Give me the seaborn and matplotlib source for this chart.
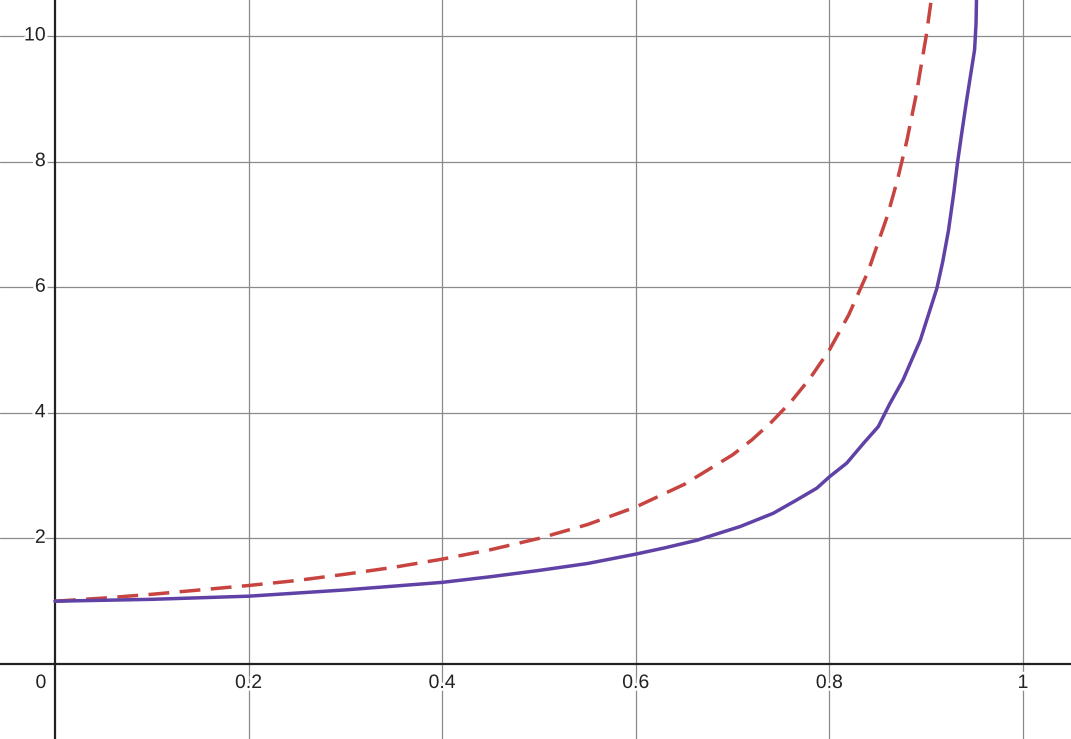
import matplotlib
matplotlib.use("Agg")
import matplotlib.pyplot as plt
import matplotlib.patheffects as pe
import seaborn as sns
import pandas as pd

sns.set_theme(style="white")
plt.rcParams["font.family"] = ["Liberation Sans", "DejaVu Sans"]

# dashed red curve
red_x = [0.0, 0.05, 0.1, 0.15, 0.2, 0.25, 0.3, 0.35, 0.4, 0.45, 0.5, 0.55,
         0.6, 0.65, 0.7, 0.72, 0.74, 0.76, 0.78, 0.8, 0.82, 0.84, 0.86,
         0.87, 0.88, 0.89, 0.9, 0.91]
red_y = [1.00, 1.05, 1.11, 1.18, 1.25, 1.33, 1.43, 1.54, 1.67, 1.82, 2.00, 2.22,
         2.50, 2.86, 3.33, 3.57, 3.85, 4.17, 4.55, 5.00, 5.56, 6.25, 7.14,
         7.69, 8.33, 9.09, 10.0, 11.1]

# solid purple curve
purple_x = [0.0, 0.1, 0.2, 0.3, 0.4, 0.45, 0.5, 0.55, 0.6, 0.63, 0.663, 0.708,
            0.742, 0.766, 0.787, 0.8, 0.818, 0.835, 0.8505, 0.8626, 0.876,
            0.894, 0.911, 0.917, 0.923, 0.9285, 0.9325, 0.9367, 0.9418, 0.950,
            0.9515, 0.952]
purple_y = [1.00, 1.03, 1.08, 1.18, 1.30, 1.39, 1.49, 1.60, 1.75, 1.85, 1.97, 2.19,
            2.40, 2.61, 2.80, 2.98, 3.20, 3.51, 3.78, 4.15, 4.52,
            5.16, 5.98, 6.40, 6.90, 7.50, 8.00, 8.45, 8.98, 9.78,
            10.2, 10.6]

x_ticks = [0.2, 0.4, 0.6, 0.8, 1.0]
x_labels = ["0.2", "0.4", "0.6", "0.8", "1"]
y_ticks = [2, 4, 6, 8, 10]
y_labels = ["2", "4", "6", "8", "10"]

red = pd.DataFrame({"x": red_x, "y": red_y})
purple = pd.DataFrame({"x": purple_x, "y": purple_y})

fig = plt.figure(figsize=(10.71, 7.39), dpi=100)
ax = fig.add_axes([0, 0, 1, 1])

x_min, x_max = -0.0568, 1.0496
y_min, y_max = -1.194, 10.573

# grid and axes lines
for t in x_ticks:
    ax.axvline(t, color="#8a8a8a", lw=0.9, zorder=0)
for t in y_ticks:
    ax.axhline(t, color="#8a8a8a", lw=0.9, zorder=0)
ax.axvline(0, color="#222222", lw=1.6, zorder=1)
ax.axhline(0, color="#222222", lw=1.6, zorder=1)

sns.lineplot(data=red, x="x", y="y", ax=ax, color="#c74440", lw=2.5,
             sort=False, zorder=3)
ax.lines[-1].set_dashes((6.0, 3.0))
sns.lineplot(data=purple, x="x", y="y", ax=ax, color="#6042a6", lw=2.5,
             sort=False, zorder=4)

ax.set_xlim(x_min, x_max)
ax.set_ylim(y_min, y_max)
ax.set_xticks([])
ax.set_yticks([])
ax.set_xlabel("")
ax.set_ylabel("")
for s in ax.spines.values():
    s.set_visible(False)

halo = [pe.withStroke(linewidth=4, foreground="white")]
for t, lab in zip(x_ticks, x_labels):
    ax.text(t, -0.31, lab, ha="center", va="center", fontsize=14,
            color="#222222", path_effects=halo, zorder=5)
for t, lab in zip(y_ticks, y_labels):
    ax.text(-0.0095, t, lab, ha="right", va="center", fontsize=14,
            color="#222222", path_effects=halo, zorder=5)
ax.text(-0.0145, -0.31, "0", ha="center", va="center", fontsize=14,
        color="#222222", path_effects=halo, zorder=5)

fig.savefig("out.png", dpi=100)
